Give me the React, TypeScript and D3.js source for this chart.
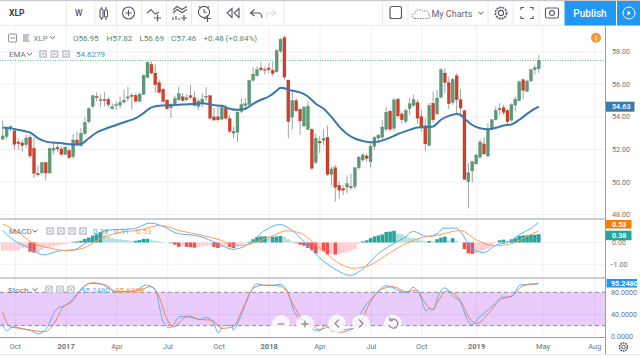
import React from "react";
import * as d3 from "d3";

const opens = [52.63,52.79,53.3,53.14,52.46,52.4,52.3,52.75,52.07,50.53,50.55,51.2,50.55,51.95,52.13,52.03,51.7,51.93,51.56,52.58,52.22,52.96,53.7,54.64,55.25,55.0,55.05,55.07,54.5,54.68,54.72,54.9,55.15,55.32,55.32,54.95,55.38,56.42,57.22,56.69,56.1,55.7,55.03,54.56,54.8,55.05,55.23,55.05,55.3,55.17,54.64,54.8,55.2,55.3,54.0,54.0,53.86,54.53,53.9,53.0,53.06,54.33,54.68,54.76,56.24,56.52,57.0,56.85,57.0,56.87,56.77,58.04,58.86,56.26,53.98,55.0,54.47,53.44,53.23,53.24,51.2,52.5,52.56,52.75,50.47,50.88,49.8,49.6,49.69,49.72,49.73,50.88,51.35,51.6,51.25,52.2,52.7,52.75,53.24,54.35,53.3,55.09,54.18,53.72,54.5,54.7,54.88,54.02,53.45,52.24,54.84,54.18,55.2,56.69,56.1,54.88,56.52,55.05,54.37,50.02,50.68,51.11,51.52,52.34,51.6,53.24,53.82,54.5,54.57,54.39,53.8,54.72,55.0,56.28,55.56,56.2,56.89,56.95];
const closes = [52.83,53.35,53.4,52.32,52.36,52.24,52.7,51.6,50.53,50.45,51.2,50.55,52.07,52.07,52.03,51.7,52.13,51.5,52.58,52.34,53.0,53.65,54.5,55.3,55.17,55.07,55.0,54.74,54.62,54.74,54.88,55.03,55.23,55.25,54.95,55.4,56.55,57.35,56.69,55.97,55.5,54.95,54.5,54.74,55.13,55.42,55.0,55.17,55.2,54.7,54.97,55.09,55.27,53.92,53.8,53.82,54.57,53.92,53.1,53.12,54.3,54.76,54.8,56.24,56.62,56.9,56.9,56.92,56.9,56.65,58.08,58.76,56.44,53.71,55.0,54.37,53.75,54.6,54.66,50.84,52.69,52.4,52.67,50.47,50.8,49.67,49.5,49.5,49.9,49.65,50.88,51.52,51.66,51.45,52.2,52.73,52.87,53.38,54.29,53.24,55.04,54.06,53.82,54.39,54.8,55.05,53.92,53.41,52.34,54.7,53.82,55.15,56.89,56.1,54.8,56.3,55.05,54.54,50.17,50.57,51.25,51.66,52.46,51.72,53.24,53.82,54.39,54.45,54.27,53.7,54.74,55.09,56.15,55.62,56.2,56.89,57.02,57.46];
const highs = [53.78,53.45,53.5,53.2,52.69,52.6,52.9,52.9,52.75,50.99,51.2,51.2,52.1,52.4,52.3,52.2,52.2,52.07,52.95,53.1,53.3,54.0,54.6,55.35,55.5,55.36,55.53,55.21,54.84,54.95,55.25,55.66,55.87,55.46,55.46,55.5,56.6,57.41,57.41,57.26,56.28,55.77,55.1,54.84,55.3,55.87,55.46,55.4,55.97,55.56,55.1,55.45,55.83,55.35,54.55,54.63,54.75,54.75,54.12,53.4,54.33,55.15,55.15,56.28,57.05,57.1,57.35,57.1,57.3,57.4,58.12,58.84,58.98,56.28,55.62,55.15,54.53,54.67,54.95,53.3,52.95,52.8,53.2,53.45,50.95,51.05,50.02,49.8,50.4,50.5,50.9,51.6,51.76,51.76,52.38,52.83,52.95,53.8,54.6,54.43,55.15,55.15,54.33,54.5,55.15,55.35,55.05,54.43,53.92,54.84,55.56,55.66,57.0,57.0,56.48,56.38,56.69,55.7,54.43,51.19,51.3,51.7,52.63,52.75,53.61,53.86,54.64,54.84,54.74,54.47,54.84,55.25,56.23,56.32,56.28,56.95,57.2,57.82];
const lows = [52.6,52.6,53.1,52.0,52.0,51.87,52.1,51.46,50.23,50.33,50.55,50.1,50.55,51.7,51.85,51.6,51.66,51.4,51.4,52.2,52.18,52.9,53.6,54.54,54.95,54.64,54.64,54.6,54.43,54.43,54.5,54.84,54.95,54.43,54.9,54.9,55.36,56.38,56.59,55.5,55.46,54.84,54.43,53.92,54.74,54.95,54.95,54.95,55.09,54.64,54.4,54.6,54.95,53.83,53.8,53.7,53.8,53.8,53.0,52.69,52.48,54.22,54.43,54.72,56.17,56.48,56.8,56.6,56.7,56.48,56.7,57.92,56.28,52.69,53.2,54.27,52.9,53.36,53.2,50.78,51.1,51.76,52.27,50.37,49.8,48.8,48.99,49.2,49.3,49.5,49.55,50.74,51.25,51.25,50.9,51.97,52.38,52.6,53.1,53.1,53.1,53.9,53.6,53.6,54.1,54.64,53.6,53.1,51.93,52.2,53.61,54.12,55.15,55.46,54.47,54.74,54.23,53.98,50.12,48.38,49.96,51.05,51.46,51.66,51.52,53.16,53.78,54.12,54.12,53.51,53.71,54.33,54.95,55.09,55.52,56.18,56.6,56.69];

const emaIdx = [0,3,6,7,9,11,15,18,20,22,24,26,29,32,34,36,38,40,43,46,50,51,54,56,58,60,62,64,66,68,70,71,72,73,75,77,78,80,82,84,86,88,90,92,94,96,98,100,101,104,106,108,110,112,114,116,117,118,120,122,124,126,128,130,132,134,136,137];
const emaVal = [53.35,53.26,53.1,53.04,52.69,52.48,52.38,52.3,52.34,52.69,53.04,53.24,53.5,53.75,53.92,54.23,54.58,54.68,54.72,54.76,54.8,54.84,54.72,54.68,54.5,54.43,54.5,54.8,55.05,55.25,55.6,55.79,55.76,55.66,55.56,55.4,55.25,54.8,54.5,54.0,53.4,52.95,52.67,52.52,52.44,52.48,52.63,52.83,52.95,53.2,53.35,53.36,53.41,53.82,54.06,54.18,54.12,53.9,53.5,53.3,53.24,53.33,53.47,53.53,53.82,54.18,54.5,54.63];

const macdIdx = [0,2.7,7,10.4,14.6,18,20.6,23.2,27.4,33.4,37.6,41,44.4,50.4,54.7,58.9,63.2,66.6,70.9,74.3,78.5,81.1,85.3,88.8,92.2,95.6,99,102.4,105,108.3,111.3,112.6,116,117.3,119.4,122.8,126.2,129.6,132.2,134.8,136.9];
const macdVal = [.55,.12,-.26,-.57,-.38,-.34,-.11,.28,.58,.63,.89,.74,.43,.28,-.03,-.31,-.03,.51,.82,.51,-.26,-.72,-1.26,-1.51,-1.18,-.57,-.14,.2,.51,.28,.43,.66,.66,.43,-.18,-.46,-.11,.05,.38,.63,.91];
const signalIdx = [0,3.6,7.8,12.1,16.3,20.6,24.9,29.1,35.1,40.2,45.3,50.4,55.5,59.8,64,69.1,72.6,76,81.1,85.3,89.6,93.9,98.1,102.4,106.6,110.9,116.9,121.1,125.4,130.5,133.9,136.9];
const signalVal = [.85,.51,-.03,-.26,-.37,-.26,.17,.43,.58,.78,.54,.35,.12,-.15,-.03,.32,.54,.43,-.26,-.88,-1.18,-1.03,-.57,-.11,.2,.32,.55,.12,-.15,-.03,.28,.53];
const histVal = [-.37,-.37,-.37,-.37,-.37,-.26,-.26,-.42,-.46,-.46,-.34,-.26,-.23,-.18,-.14,-.08,-.08,-.03,.03,.05,.08,.17,.23,.32,.38,.48,.35,.28,.2,.17,.15,.12,.1,.08,.08,.11,.17,.17,.12,.08,.05,.02,0,-.03,-.1,-.2,-.15,-.2,-.22,-.24,-.2,-.18,-.15,-.13,-.2,-.25,-.22,-.15,-.2,-.25,-.15,-.1,-.03,.03,.15,.25,.28,.28,.25,.27,.28,.3,.25,.15,.05,-.03,-.1,-.15,-.25,-.35,-.5,-.35,-.4,-.55,-.5,-.55,-.52,-.48,-.42,-.38,-.3,-.05,.05,.1,.2,.28,.32,.37,.48,.5,.54,.42,.38,.3,.22,.2,.15,.1,.05,.07,.05,.15,.22,.27,.1,.2,.08,0,-.3,-.5,-.52,-.5,-.42,-.35,-.28,-.15,-.03,.1,.13,.08,.15,.2,.3,.32,.33,.35,.36,.38];

const kIdx = [0,1,2.7,5.3,7,9.1,11.2,13.8,16.3,19.7,22.3,24.9,29.1,33.4,36.8,38.9,41,42.7,45.3,47.9,50.4,52,53.8,55.1,56.4,58.5,58.9,60.6,63.2,64.9,67.4,70.9,72.6,74.7,77.2,79.8,81,82.4,84.5,86.2,89.6,92.2,94.7,98.1,101.5,103.2,104.9,106.6,108.2,109.2,110.1,111.3,113,115.2,116.9,118.6,119.9,121.1,122.8,125.4,127.5,130,132.2,136.9];
const kVal = [24,11,18,14,12,5,15,50,57,82,96,95,81,82,93,86,27,16,36,37,31,35,26,7,20,20,12,33,78,95,92,94,84,42,27,12,11,21,9,12,15,51,72,92,82,79,89,75,47,51,49,74,88,72,63,33,21,30,41,57,71,72,93,95.25];
const dIdx = [0,1.9,4.4,7.8,10.8,13.4,15.5,17.6,20.6,23.2,26.6,29.1,35.1,37.6,39.8,41.9,43.6,47,50.4,53.4,56,58.9,61,64,66.6,70,72.1,74.3,76.4,78.5,81,83.6,86.2,89.2,91.3,93.9,97.3,99.8,103.2,105.8,107.5,109.9,110.9,113.5,116.9,119.4,121.1,124.5,127.1,130.5,133,136.9];
const dVal = [44,18,15,11,9,27,54,62,90,97,92,81,84,90,75,33,18,36,31,30,15,18,45,87,93,92,86,57,33,24,13,18,8,14,24,62,87,90,81,84,66,48,60,82,66,32,24,45,66,75,92,95.63];

const timeTickIdx = [3.2,16.2,29.2,42.2,55.3,68.1,81.1,94.2,107.1,121.1,138.1,151.3];
const timeTickLabels = ["Oct","2017","Apr","Jul","Oct","2018","Apr","Jul","Oct","2019","May","Aug"];
const priceTicks = [58,56,54,52,50,48];
const macdTicks = [0,-1];
const stochTicks = [80,40,0];
const stochBand = [80,20];
const lastPrice = 57.46;
const emaLast = 54.63;

const FONT = "Roboto, 'Liberation Sans', sans-serif";
const UP = "#5b9a78", DOWN = "#cf3f2a", GRID = "#eef0f5", TXT = "#6f7480", ICON = "#555b66", SEP = "#e8eaf0", BORDER = "#9a9ea6";
const BLUE = "#5ab0f5", ORANGE = "#ff9d57";
const PAD_R = 605.5;

const x = d3.scaleLinear().domain([0, 137]).range([2.7, 538.8]);
const y = d3.scaleLinear().domain([58, 48]).range([51.7, 214.6]);
const yM = d3.scaleLinear().domain([0, -1]).range([242.5, 264.3]);
const yS = d3.scaleLinear().domain([0, 80]).range([336.7, 292.3]);

const line = (ix: number[], vs: number[], sy: (v: number) => number) =>
  d3.line<number>().x((_, i) => x(ix[i])).y((v) => sy(v)).curve(d3.curveMonotoneX)(vs) || "";

const Chevron = ({ px, py }: { px: number; py: number }) => (
  <path d={`M${px - 2.5} ${py - 1.2}L${px} ${py + 1.2}L${px + 2.5} ${py - 1.2}`} fill="none" stroke={ICON} strokeWidth={1} />
);
const MiniBtn = ({ px, py }: { px: number; py: number }) => (
  <g>
    <rect x={px - 4} y={py - 4} width={8} height={8} rx={1} fill="#c9ccd6" />
    <circle cx={px} cy={py} r={2} fill="none" stroke="#fff" strokeWidth={1} />
  </g>
);
const CircleBtn = ({ px, py, children }: { px: number; py: number; children: React.ReactNode }) => (
  <g>
    <circle cx={px} cy={py} r={9} fill="#fff" fillOpacity={0.8} />
    <g fill="none" stroke="#8b8f98" strokeWidth={1.3}>{children}</g>
  </g>
);

export default function App() {
  const legend = { fontFamily: FONT, fontSize: 8 };
  const axis = { fontFamily: FONT, fontSize: 7.2 };
  const hist = histVal.map((v, i) => {
    const p = i > 0 ? histVal[i - 1] : v;
    const color = v >= 0 ? (v >= p ? "#26a69a" : "#b2dfdb") : (v < p ? "#ef5350" : "#ffcdd2");
    return { i, v, color };
  });
  return (
    <svg width={640} height={357} viewBox="0 0 640 357" style={{ position: "absolute", left: 0, top: 0, background: "#fff" }}>
      {/* chart grid */}
      {timeTickIdx.map((t, i) => (
        <line key={i} x1={x(t)} x2={x(t)} y1={26} y2={338} stroke={GRID} strokeWidth={1} />
      ))}
      {priceTicks.map((t) => (
        <line key={t} x1={0} x2={PAD_R} y1={y(t)} y2={y(t)} stroke={GRID} strokeWidth={1} />
      ))}
      {macdTicks.map((t) => (
        <line key={t} x1={0} x2={PAD_R} y1={yM(t)} y2={yM(t)} stroke={GRID} strokeWidth={1} />
      ))}

      {/* last price */}
      <line x1={0} x2={PAD_R} y1={y(lastPrice)} y2={y(lastPrice)} stroke="#6fb98f" strokeWidth={1} strokeDasharray="1 1.5" />

      {/* candles */}
      {opens.map((o, i) => {
        const c = closes[i];
        const up = c >= o;
        const top = y(Math.max(o, c));
        const h = Math.max(1, Math.abs(y(o) - y(c)));
        return (
          <g key={i}>
            <line x1={x(i)} x2={x(i)} y1={y(highs[i])} y2={y(lows[i])} stroke="#a3a3a3" strokeWidth={1} />
            <rect x={x(i) - 1.5} y={top} width={3} height={h} fill={up ? UP : DOWN} stroke={up ? "#4c8867" : "#b93a28"} strokeWidth={0.3} />
          </g>
        );
      })}
      <path d={line(emaIdx, emaVal, y)} fill="none" stroke="#3a77ab" strokeWidth={2} />

      {/* macd */}
      {hist.map((b) => (
        <rect key={b.i} x={x(b.i) - 1.8} width={3.6} y={Math.min(yM(b.v), yM(0))} height={Math.abs(yM(b.v) - yM(0))} fill={b.color} />
      ))}
      <path d={line(macdIdx, macdVal, yM)} fill="none" stroke={BLUE} strokeWidth={1} />
      <path d={line(signalIdx, signalVal, yM)} fill="none" stroke={ORANGE} strokeWidth={1} />

      {/* stoch */}
      <rect x={0} width={PAD_R} y={yS(stochBand[0])} height={yS(stochBand[1]) - yS(stochBand[0])} fill="#e9ccfb" />
      <line x1={0} x2={PAD_R} y1={yS(40)} y2={yS(40)} stroke="#dfc0f2" strokeWidth={1} />
      {timeTickIdx.map((t, i) => x(t) < PAD_R && (
        <line key={i} x1={x(t)} x2={x(t)} y1={yS(80)} y2={yS(20)} stroke="#dcc1ee" strokeWidth={1} />
      ))}
      {stochBand.map((t) => (
        <line key={t} x1={0} x2={PAD_R} y1={yS(t)} y2={yS(t)} stroke="#8f8a96" strokeWidth={1} strokeDasharray="4 3" />
      ))}
      <path d={line(kIdx, kVal, yS)} fill="none" stroke={BLUE} strokeWidth={1} />
      <path d={line(dIdx, dVal, yS)} fill="none" stroke="#f0805a" strokeWidth={1} />

      {/* pane borders */}
      {[219, 278, 337.5].map((py) => (
        <line key={py} x1={0} x2={PAD_R} y1={py} y2={py} stroke={BORDER} strokeWidth={1} />
      ))}
      <line x1={PAD_R} x2={PAD_R} y1={26} y2={354} stroke={BORDER} strokeWidth={1} />
      <line x1={0} x2={640} y1={354.5} y2={354.5} stroke={SEP} strokeWidth={1} />

      {/* toolbar */}
      <rect x={0} y={0} width={640} height={1.2} fill="#c8cad0" />
      <line x1={0} x2={640} y1={25.5} y2={25.5} stroke={SEP} />
      {[66.5, 95, 116.5, 141.5, 166.5, 191.5, 218, 243, 284, 382.5, 408, 488, 513, 539].map((sx) => (
        <line key={sx} x1={sx} x2={sx} y1={1} y2={25} stroke={SEP} />
      ))}
      <text x={9} y={16} fontFamily={FONT} fontSize={8.5} fontWeight={700} fill="#3c4048">XLP</text>
      <text x={75} y={16} fontFamily={FONT} fontSize={8.5} fontWeight={500} fill="#555b66">W</text>
      <g fill="none" stroke={ICON} strokeWidth={1.1}>
        <rect x={100} y={9} width={3} height={9} rx={1} />
        <path d="M101.5 7V9M101.5 18V20" />
        <rect x={104.5} y={10} width={3} height={7} rx={1} />
        <path d="M106 7V10M106 17V20" />
        <circle cx={128.5} cy={13} r={6} />
        <path d="M125.5 13H131.5M128.5 10V16" />
        <path d="M147 13L151 9.5L155 14L159 12M154 18H161M157.5 14.5V21.5" />
        <path d="M173 10L177 6.5L182 9.5L187 6.5M173 13L177 9.5L182 12.5L187 9.5M173 20V17M176 20V16M179 20V18M181 18H187M184 15V21" />
        <circle cx={204} cy={12} r={5.6} />
        <path d="M204 9V12.3H206.5M199 6.5L201 8M209 6.5L207 8M204 18.5H211M207.5 15V22" />
        <path d="M232 8.5L227 13L232 17.5ZM239 8.5L234 13L239 17.5Z" />
        <path d="M254.5 9.5L250.5 13L254.5 16M251 13H258Q262 13 262 18" />
      </g>
      <path d="M272 9.5L276 13L272 16M275.5 13H269Q266.5 13 266.5 18" fill="none" stroke="#d9dbe0" strokeWidth={1.1} />
      <rect x={390} y={6.5} width={11.5} height={12} rx={2} fill="none" stroke={ICON} strokeWidth={1.2} />
      <path d="M415 18.5C411 18.5 411 13.5 415 13.5C415 9.5 421 8.5 423 11.5C426 9.5 430 12 428.5 15C431 15.5 431 18.5 428 18.5Z" fill="none" stroke="#777c88" strokeWidth={0.9} strokeDasharray="1.5 1" />
      <text x={431.5} y={16.5} fontFamily={FONT} fontSize={9} fill="#5f6470">My Charts</text>
      <Chevron px={481} py={13} />
      <g fill="none" stroke={ICON} strokeWidth={1.1}>
        <circle cx={501} cy={13} r={2.6} />
        <circle cx={501} cy={13} r={5.6} strokeDasharray="2.2 0.8" strokeWidth={1.6} />
        <path d="M521 10V7.5H524M530 7.5H533V10M521 16V18.5H524M530 18.5H533V16" />
        <rect x={545.5} y={8} width={13} height={10} rx={1.5} />
        <circle cx={552} cy={13} r={2.5} />
      </g>
      <rect x={564.5} y={1} width={51.5} height={24.5} fill="#2196f3" />
      <rect x={617} y={1} width={23} height={24.5} fill="#2196f3" />
      <text x={590} y={17} textAnchor="middle" fontFamily={FONT} fontSize={10} fontWeight={500} fill="#fff">Publish</text>
      <circle cx={629} cy={13} r={6} fill="none" stroke="#fff" strokeWidth={1} />
      <path d="M627.5 10.5L631 13L627.5 15.5Z" fill="#fff" />

      {/* legends */}
      <rect x={8.5} y={34} width={8} height={8} rx={1} fill="none" stroke="#8f939d" />
      <line x1={10} x2={15} y1={38} y2={38} stroke="#8f939d" />
      <path d="M23 34H30L28 38L30 42H23Z" fill="#bfc2cc" />
      <text x={33.5} y={41} {...legend} fill="#7a7f8a">XLP</text>
      <Chevron px={52.5} py={37.5} />
      <text x={73} y={41} {...legend} fill="#4f8a6a">O56.95</text>
      <text x={106.5} y={41} {...legend} fill="#4f8a6a">H57.82</text>
      <text x={139.5} y={41} {...legend} fill="#4f8a6a">L56.69</text>
      <text x={171} y={41} {...legend} fill="#4f8a6a">C57.46</text>
      <text x={203.5} y={41} {...legend} fill="#4f8a6a">+0.48 (+0.84%)</text>
      <text x={9} y={57} {...legend} fill="#6f7480">EMA</text>
      <Chevron px={29.5} py={54} />
      <MiniBtn px={43} py={54} /><MiniBtn px={54.5} py={54} /><MiniBtn px={66} py={54} />
      <text x={76} y={57} {...legend} fill="#4a90c8">54.6279</text>

      <text x={9} y={234} {...legend} fill="#6f7480">MACD</text>
      <Chevron px={35} py={231} />
      <MiniBtn px={50} py={231} /><MiniBtn px={61} py={231} /><MiniBtn px={72} py={231} /><MiniBtn px={83} py={231} />
      <text x={93} y={234} {...legend} fill="#4fb5a9">0.38</text>
      <text x={114} y={234} {...legend} fill={BLUE}>0.91</text>
      <text x={136} y={234} {...legend} fill={ORANGE}>0.53</text>

      <text x={8} y={292.5} {...legend} fill="#6f7480">Stoch</text>
      <Chevron px={35} py={289.5} />
      <MiniBtn px={49} py={289.5} /><MiniBtn px={60} py={289.5} /><MiniBtn px={71} py={289.5} />
      <text x={81} y={292.5} {...legend} fill={BLUE}>95.2480</text>
      <text x={115} y={292.5} {...legend} fill={ORANGE}>95.6339</text>

      {/* y axes */}
      {priceTicks.map((t) => (
        <text key={t} x={612} y={y(t) + 2.5} {...axis} fill={TXT}>{t.toFixed(2)}</text>
      ))}
      <rect x={606} y={101.7} width={28.5} height={10} fill="#3b79ab" />
      <text x={612} y={y(emaLast) + 2.5} {...axis} fontWeight={700} fill="#e8f1f8">{emaLast.toFixed(2)}</text>
      {macdTicks.map((t) => (
        <text key={t} x={t < 0 ? 609.5 : 612} y={yM(t) + 2.5} {...axis} fill={TXT}>{t < 0 ? "\u2212" + Math.abs(t).toFixed(2) : t.toFixed(2)}</text>
      ))}
      <rect x={605.5} y={220} width={26} height={8.5} fill="#f57c00" />
      <text x={612} y={226.8} {...axis} fontWeight={700} fill="#fff">0.53</text>
      <rect x={605.5} y={230.7} width={26} height={9.5} fill="#26a69a" />
      <text x={612} y={238} {...axis} fontWeight={700} fill="#fff">0.38</text>
      {stochTicks.map((t) => (
        <text key={t} x={611} y={yS(t) + 2.5} {...axis} fill={TXT}>{t.toFixed(4)}</text>
      ))}
      <rect x={606.5} y={279} width={30.5} height={8.5} fill="#2196f3" />
      <text x={611} y={286} {...axis} fontWeight={700} fill="#fff">95.2480</text>

      {/* time axis */}
      {timeTickIdx.map((t, i) => (
        <text key={i} x={x(t)} y={349} textAnchor="middle" fontFamily={FONT} fontSize={7.5} fontWeight={timeTickLabels[i].length === 4 ? 700 : 400} fill={TXT}>{timeTickLabels[i]}</text>
      ))}
      <g fill="none" stroke={ICON} strokeWidth={1}>
        <circle cx={623.5} cy={347} r={1.8} />
        <circle cx={623.5} cy={347} r={4} strokeDasharray="1.8 0.7" strokeWidth={1.5} />
      </g>

      {/* badge */}
      <circle cx={596} cy={37.7} r={5} fill="#ff9333" />
      <text x={596} y={40.5} textAnchor="middle" fontFamily={FONT} fontSize={8} fontWeight={700} fill="#fff">!</text>

      {/* nav buttons */}
      <CircleBtn px={281} py={324}><path d="M277.5 324H284.5" /></CircleBtn>
      <CircleBtn px={305} py={324}><path d="M301.5 324H308.5M305 320.5V327.5" /></CircleBtn>
      <CircleBtn px={337} py={323.5}><path d="M339 319.5L335 323.5L339 327.5" /></CircleBtn>
      <CircleBtn px={361} py={323.5}><path d="M359 319.5L363 323.5L359 327.5" /></CircleBtn>
      <CircleBtn px={393} py={323.5}><path d="M390 320.5A4.5 4.5 0 1 1 389 325M390 317.5V320.5H393" /></CircleBtn>
    </svg>
  );
}
